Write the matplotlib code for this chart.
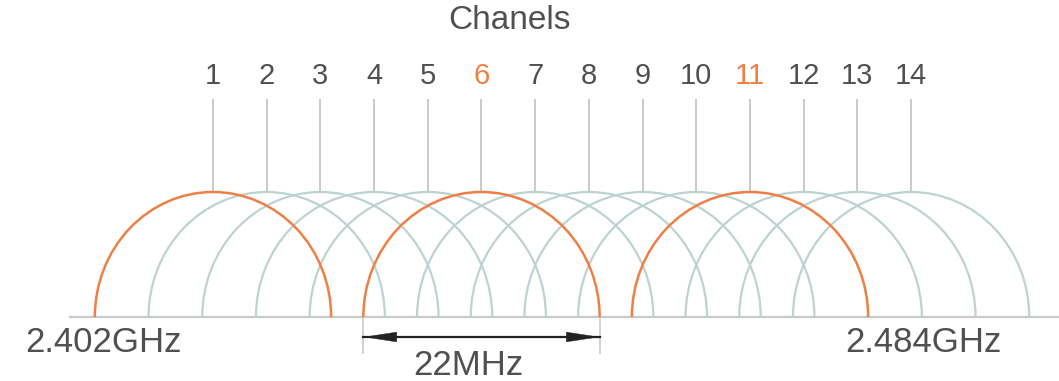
import numpy as np
import matplotlib
matplotlib.use("Agg")
import matplotlib.pyplot as plt
from matplotlib.patches import Arc, FancyArrowPatch

# canales wifi 2.4 GHz (separados 5 MHz, ancho 22 MHz)
canales = list(range(1, 15))
etiquetas = [str(c) for c in canales]
no_solapados = [1, 6, 11]
ancho_canal = 22 / 5          # ancho del canal medido en canales
frecuencias = ["2.402GHz", "2.484GHz"]
titulo = "Chanels"

gris = "#505050"
naranja = "#ee7f45"
azul = "#bdd3d3"
linea = "#c9c9c9"

plt.rcParams["font.family"] = ["Liberation Sans", "DejaVu Sans"]

fig = plt.figure(figsize=(10.59, 3.81), dpi=100)
ax = fig.add_axes([0, 0, 1, 1])
ax.set_xlim(-2.966, 16.754)
ax.set_ylim(-0.512, 2.536)
ax.axis("off")

# linea base
ax.plot([-1.66, 16.754], [0, 0], color=linea, lw=1.6, zorder=1)

# arcos de cada canal, los no solapados encima
for c in canales:
    if c in no_solapados:
        continue
    ax.add_patch(Arc((c, 0), ancho_canal, 2.0, theta1=0, theta2=180,
                     color=azul, lw=1.6, zorder=2))
for c in no_solapados:
    ax.add_patch(Arc((c, 0), ancho_canal, 2.0, theta1=0, theta2=180,
                     color=naranja, lw=1.8, zorder=3))

# lineas verticales y numeros
for c, et in zip(canales, etiquetas):
    ax.plot([c, c], [1.0, 1.736], color=linea, lw=1.4, zorder=1)
    col = naranja if c in no_solapados[1:] else gris
    ax.text(c, 1.93, et, ha="center", va="center", fontsize=21, color=col)

ax.text(6.53, 2.37, titulo, ha="center", va="center", fontsize=24, color=gris)

# frecuencias extremas
ax.text(-2.5, -0.2, frecuencias[0], ha="left", va="center", fontsize=25, color=gris)
ax.text(15.69, -0.2, frecuencias[1], ha="right", va="center", fontsize=25, color=gris)

# flecha de 22 MHz sobre el canal 6
c6 = no_solapados[1]
x0, x1 = c6 - ancho_canal / 2, c6 + ancho_canal / 2
for x in (x0, x1):
    ax.plot([x, x], [0, -0.29], color=linea, lw=1.2, zorder=1)
ax.plot([x0, x1], [-0.16, -0.16], color="#222222", lw=1.6, zorder=4)
flecha = FancyArrowPatch((x0, -0.16), (x1, -0.16),
                         arrowstyle="<|-|>,head_length=2.3,head_width=0.35",
                         color="#222222", lw=0.3, mutation_scale=10,
                         shrinkA=0, shrinkB=0, zorder=4)
ax.add_patch(flecha)
ax.text(5.75, -0.39, "22MHz", ha="center", va="center", fontsize=25, color=gris)

fig.savefig("out.png", dpi=100, facecolor="white")
